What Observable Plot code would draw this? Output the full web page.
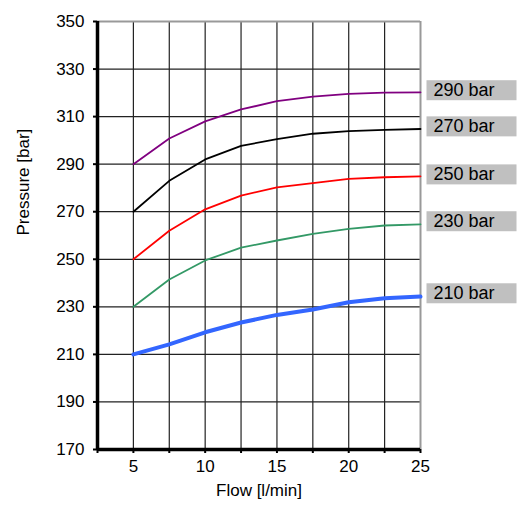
<!DOCTYPE html>
<html>
<head>
<meta charset="utf-8">
<script src="https://cdn.jsdelivr.net/npm/d3@7"></script>
<script src="https://cdn.jsdelivr.net/npm/@observablehq/plot@0.6"></script>
<style>
  html, body { margin: 0; padding: 0; background: #fff; }
  #chart { width: 517px; height: 507px; }
</style>
</head>
<body>
<div id="chart"></div>
<script>
// ---- data ----
const flow = [5, 7.5, 10, 12.5, 15, 17.5, 20, 22.5, 25];
const p290 = [290, 300.8, 308, 313, 316.5, 318.4, 319.6, 320.1, 320.2];
const p270 = [270, 283, 292, 297.7, 300.5, 302.8, 303.9, 304.4, 304.8];
const p250 = [250, 262, 271, 276.8, 280.2, 282, 283.8, 284.5, 284.9];
const p230 = [230, 241.5, 249.5, 254.9, 257.9, 260.7, 262.8, 264.2, 264.7];
const p210 = [210, 214.2, 219.3, 223.4, 226.6, 228.9, 231.9, 233.6, 234.3];
const seriesNames = ["290 bar", "270 bar", "250 bar", "230 bar", "210 bar"];
const seriesValues = [p290, p270, p250, p230, p210];
const seriesColors = ["#800080", "#000000", "#ff0000", "#339966", "#3366ff"];
const seriesWidths = [1.8, 1.8, 1.8, 1.8, 4];
const labelY = [321, 305.8, 285.6, 265.9, 235.6];
const xTicks = [2.5, 5, 7.5, 10, 12.5, 15, 17.5, 20, 22.5, 25];
const xTickLabels = ["", "5", "", "10", "", "15", "", "20", "", "25"];
const yTicks = [170, 190, 210, 230, 250, 270, 290, 310, 330, 350];

// ---- build ----
const lineMarks = seriesValues.map((vals, i) =>
  Plot.line(flow.map((f, j) => ({flow: f, p: vals[j]})), {
    x: "flow", y: "p", stroke: seriesColors[i], strokeWidth: seriesWidths[i],
    strokeLinejoin: "round", strokeLinecap: "round"
  })
);
const labels = seriesNames.map((name, i) => ({name, y: labelY[i], x: flow[flow.length - 1]}));

const chart = Plot.plot({
  width: 517,
  height: 507,
  marginTop: 21,
  marginBottom: 58,
  marginLeft: 97,
  marginRight: 97,
  style: {fontFamily: "'Liberation Sans', Arial, sans-serif", fontSize: "17px", background: "#fff", color: "#000"},
  x: {domain: [2.5, 25]},
  y: {domain: [170, 350]},
  marks: [
    Plot.gridX(xTicks.slice(1, -1), {stroke: "#222", strokeOpacity: 1, strokeWidth: 1.2}),
    Plot.gridY(yTicks.slice(1, -1), {stroke: "#222", strokeOpacity: 1, strokeWidth: 1.2}),
    Plot.ruleX([xTicks[xTicks.length - 1]], {stroke: "#999", strokeWidth: 2}),
    Plot.ruleY([yTicks[yTicks.length - 1]], {stroke: "#999", strokeWidth: 2}),
    ...lineMarks,
    Plot.axisX({ticks: xTicks, tickFormat: (d) => xTickLabels[xTicks.indexOf(d)], tickSize: 4, tickPadding: 6, label: null, strokeWidth: 2}),
    Plot.axisY({ticks: yTicks, tickFormat: (d) => String(d), tickSize: 4, tickPadding: 9, label: null, strokeWidth: 2}),
    Plot.ruleX([xTicks[0]], {stroke: "#000", strokeWidth: 3.5}),
    Plot.ruleY([yTicks[0]], {stroke: "#000", strokeWidth: 3.5}),
    Plot.text(["Flow [l/min]"], {frameAnchor: "bottom", dy: 46, fontSize: 17}),
    Plot.text(["Pressure [bar]"], {frameAnchor: "left", dx: -74, rotate: -90, fontSize: 17}),
    Plot.text(labels, {x: "x", y: "y", text: "name", dx: 13, textAnchor: "start", fontSize: 18})
  ]
});

document.getElementById("chart").appendChild(chart);

// grey boxes behind the series labels
chart.querySelectorAll("text").forEach((t) => {
  if (!seriesNames.includes(t.textContent)) return;
  const bb = t.getBBox();
  const r = document.createElementNS("http://www.w3.org/2000/svg", "rect");
  r.setAttribute("x", bb.x - 7);
  r.setAttribute("y", bb.y + bb.height / 2 - 10);
  r.setAttribute("width", 90);
  r.setAttribute("height", 20);
  r.setAttribute("fill", "#c0c0c0");
  const tr = t.getAttribute("transform");
  if (tr) r.setAttribute("transform", tr);
  t.parentNode.insertBefore(r, t);
});
</script>
</body>
</html>
